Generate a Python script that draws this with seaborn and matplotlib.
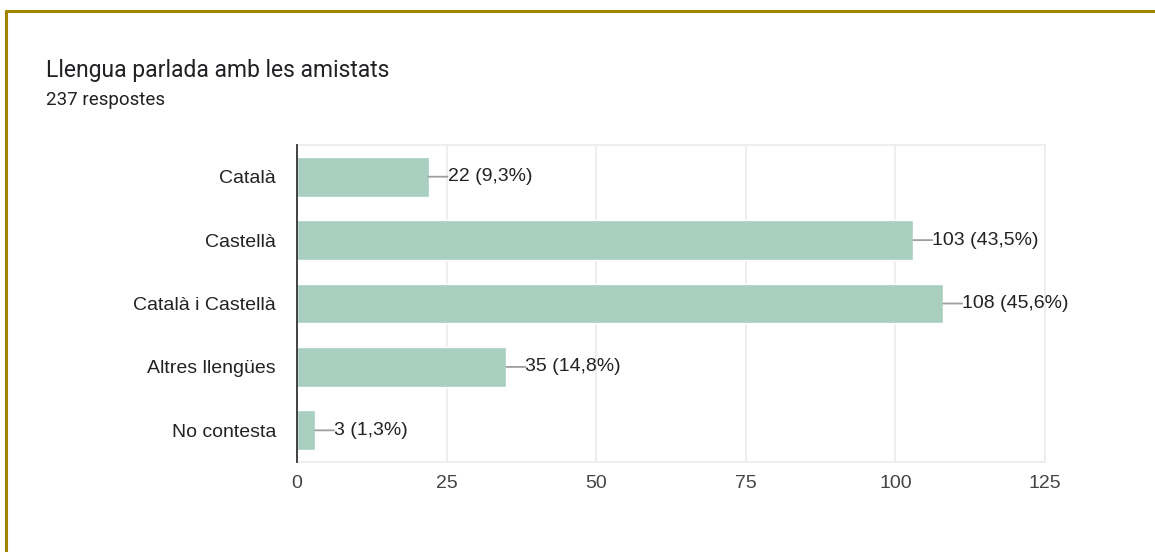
import matplotlib.pyplot as plt
import pandas as pd
import seaborn as sns

# Dades de la pregunta
categories = ["Català", "Castellà", "Català i Castellà", "Altres llengües", "No contesta"]
counts = [22, 103, 108, 35, 3]
labels = ["22 (9,3%)", "103 (43,5%)", "108 (45,6%)", "35 (14,8%)", "3 (1,3%)"]
x_ticks = [0, 25, 50, 75, 100, 125]

title = "Llengua parlada amb les amistats"
subtitle = "237 respostes"

bar_color = "#a9cfc0"
border_color = "#a38400"

df = pd.DataFrame({"categoria": categories, "respostes": counts})

sns.set_style("white")
plt.rcParams["font.family"] = ["Liberation Sans", "DejaVu Sans"]

fig = plt.figure(figsize=(11.55, 5.52), dpi=100)
ax = fig.add_axes([0.2571, 0.163, 0.6476, 0.5743])

sns.barplot(data=df, x="respostes", y="categoria", orient="h",
            color=bar_color, width=0.63, ax=ax, saturation=1)

ax.set_xlim(0, 125)
ax.set_ylim(4.5, -0.5)
ax.set_xticks(x_ticks)
ax.set_xlabel("")
ax.set_ylabel("")
ax.grid(axis="x", color="#ebebeb", linewidth=1.2)
ax.set_axisbelow(True)

for side in ["top", "bottom", "right"]:
    ax.spines[side].set_color("#ebebeb")
    ax.spines[side].set_linewidth(1.2)
ax.spines["left"].set_color("#333333")
ax.spines["left"].set_linewidth(1.3)
ax.spines["left"].set_zorder(5)

ax.tick_params(axis="both", length=0, labelsize=14)
ax.tick_params(axis="y", labelcolor="#222222", pad=15)
ax.tick_params(axis="x", labelcolor="#444444", pad=9)

# Línies guia i etiquetes
for i, (v, lab) in enumerate(zip(counts, labels)):
    ax.annotate("", xy=(v, i), xytext=(19, 0), textcoords="offset pixels",
                arrowprops=dict(arrowstyle="-", color="#9e9e9e", lw=1.3,
                                shrinkA=0, shrinkB=0))
    ax.annotate(lab, xy=(v, i), xytext=(19, 0), textcoords="offset pixels",
                va="center", ha="left", fontsize=14, color="#222222")

fig.text(46 / 1155, 1 - 70 / 552, title, fontsize=16.5, color="#202124",
         va="center", ha="left", family=["Roboto", "DejaVu Sans"])
fig.text(46 / 1155, 1 - 100 / 552, subtitle, fontsize=13.5, color="#202124",
         va="center", ha="left", family=["Roboto", "DejaVu Sans"])

# Vora daurada (superior i esquerra)
fig.add_artist(plt.Line2D([6 / 1155, 1], [1 - 11 / 552, 1 - 11 / 552],
                          transform=fig.transFigure, color=border_color, lw=2.2))
fig.add_artist(plt.Line2D([6 / 1155, 6 / 1155], [0, 1 - 11 / 552],
                          transform=fig.transFigure, color=border_color, lw=2.2))

fig.savefig("out.png", dpi=100)
